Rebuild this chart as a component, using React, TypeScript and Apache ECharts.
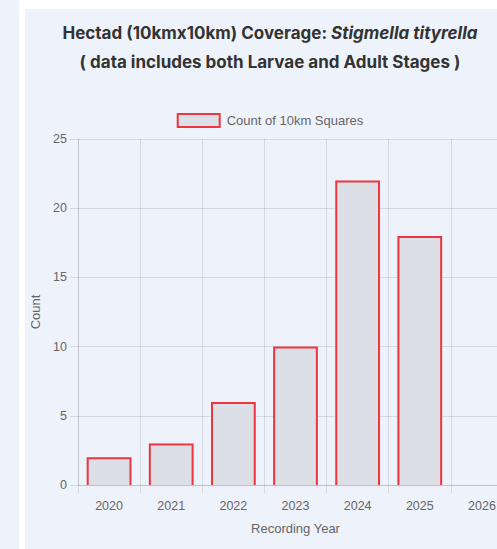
import React, { useEffect, useRef } from "react";
import * as echarts from "echarts";

const years = ["2020", "2021", "2022", "2023", "2024", "2025", "2026"];
const counts: (number | null)[] = [2, 3, 6, 10, 22, 18, null];
const seriesName = "Count of 10km Squares";
const titleLine1 = "Hectad (10kmx10km) Coverage: ";
const titleSpecies = "Stigmella tityrella";
const titleLine2 = "( data includes both Larvae and Adult Stages )";
const yTicks = { min: 0, max: 25, interval: 5 };

const FILL = "#dcdfe6";
const BORDER = "#ee3640";
const GRID = "rgba(0,0,0,0.1)";
const TXT = "#666";
const FONT = "'Liberation Sans', Arial, sans-serif";

export default function App() {
  const ref = useRef<HTMLDivElement>(null);
  useEffect(() => {
    if (!ref.current) return;
    const chart = echarts.init(ref.current, undefined, { renderer: "svg" });
    const data = counts.map((v, i) => [i, v == null ? "-" : v]);
    chart.setOption({
      animation: false,
      backgroundColor: "transparent",
      title: {
        left: "center",
        top: 4.5,
        text: `{b|${titleLine1}}{i|${titleSpecies}}\n{b|${titleLine2}}`,
        textStyle: {
          rich: {
            b: { fontFamily: "Inter", fontWeight: "bold", fontSize: 17, color: "#333", lineHeight: 29 },
            i: { fontFamily: "Inter", fontWeight: "bold", fontStyle: "italic", fontSize: 17, color: "#333", lineHeight: 29 },
          },
        },
      },
      legend: {
        top: 99,
        left: "center",
        itemWidth: 42,
        itemHeight: 13,
        itemGap: 10,
        textStyle: { color: TXT, fontSize: 13, fontFamily: FONT, padding: [0, 0, 0, 2] },
        data: [
          {
            name: seriesName,
            icon: "rect",
            itemStyle: { color: FILL, borderColor: BORDER, borderWidth: 2 },
          },
        ],
      },
      grid: { left: 53, top: 130, width: 435, height: 346, containLabel: false, outerBoundsMode: "none" },
      xAxis: {
        type: "category",
        data: years,
        boundaryGap: true,
        name: "Recording Year",
        nameLocation: "middle",
        nameGap: 37,
        nameTextStyle: { color: TXT, fontSize: 13, fontFamily: FONT },
        axisLine: { show: true, lineStyle: { color: GRID } },
        axisTick: { show: true, length: 8, lineStyle: { color: GRID } },
        axisLabel: { color: TXT, fontSize: 12.5, fontFamily: FONT, margin: 14 },
        splitLine: { show: true, lineStyle: { color: GRID } },
      },
      yAxis: {
        type: "value",
        min: yTicks.min,
        max: yTicks.max,
        interval: yTicks.interval,
        name: "Count",
        nameLocation: "middle",
        nameGap: 34,
        nameTextStyle: { color: TXT, fontSize: 13, fontFamily: FONT },
        axisLine: { show: true, lineStyle: { color: GRID } },
        axisTick: { show: true, length: 8, lineStyle: { color: GRID } },
        axisLabel: { color: TXT, fontSize: 12.5, fontFamily: FONT, margin: 11 },
        splitLine: { show: true, lineStyle: { color: GRID } },
      },
      series: [
        {
          type: "custom",
          name: seriesName,
          encode: { x: 0, y: 1 },
          itemStyle: { color: FILL, borderColor: BORDER, borderWidth: 2 },
          data,
          renderItem: (params: any, api: any) => {
            const v = api.value(1);
            if (v == null || isNaN(v)) return null;
            const idx = api.value(0);
            const top = api.coord([idx, v]);
            const base = api.coord([idx, 0]);
            const bw = api.size([1, 0])[0] * 0.72;
            const x0 = top[0] - bw / 2;
            const x1 = top[0] + bw / 2;
            return {
              type: "group",
              children: [
                {
                  type: "rect",
                  shape: { x: x0, y: top[1], width: bw, height: base[1] - top[1] },
                  style: { fill: FILL },
                },
                {
                  type: "polyline",
                  shape: {
                    points: [
                      [x0 + 1, base[1]],
                      [x0 + 1, top[1] + 1],
                      [x1 - 1, top[1] + 1],
                      [x1 - 1, base[1]],
                    ],
                  },
                  style: { stroke: BORDER, lineWidth: 2, fill: null },
                },
              ],
            };
          },
        },
      ],
    });
    return () => chart.dispose();
  }, []);

  return (
    <div
      style={{
        position: "fixed",
        left: 0,
        top: 0,
        width: 497,
        height: 549,
        background: "#fff",
        overflow: "hidden",
      }}
    >
      <div style={{ position: "absolute", left: 0, top: 0, width: 19, height: 549, background: "#eef2fa" }} />
      <div style={{ position: "absolute", left: 25, top: 9, width: 520, height: 540, background: "#eef2fa" }} />
      <div ref={ref} style={{ position: "absolute", left: 25, top: 9, width: 490, height: 540 }} />
    </div>
  );
}
